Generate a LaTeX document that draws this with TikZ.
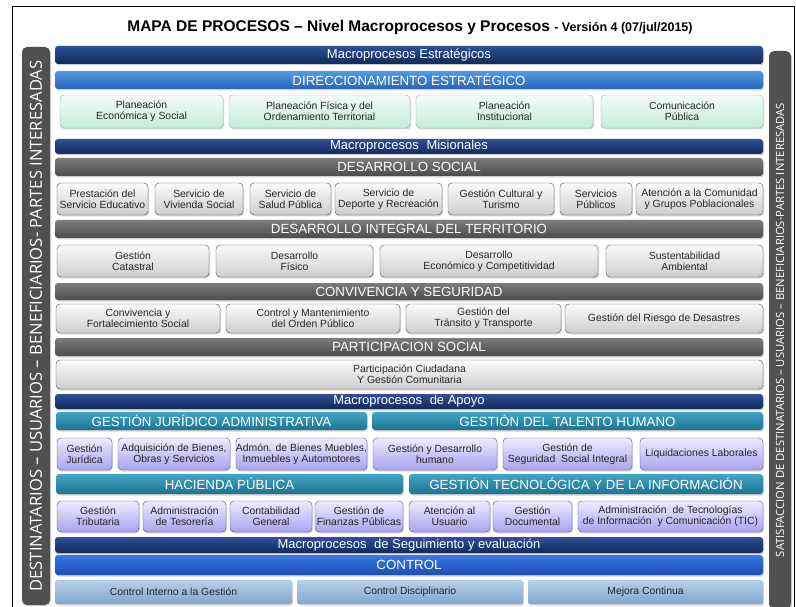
\documentclass[tikz,border=0pt]{standalone}
\usepackage{fontspec}
\setmainfont{Liberation Sans}
\newfontfamily\sidefont{Open Sans}
\usetikzlibrary{shadows}

\definecolor{navytop}{HTML}{2D5096}
\definecolor{navybot}{HTML}{13295A}
\definecolor{dirtop}{HTML}{549AE2}
\definecolor{dirbot}{HTML}{2864B6}
\definecolor{minttop}{HTML}{F2FDF8}
\definecolor{mintbot}{HTML}{C4ECDA}
\definecolor{graytop}{HTML}{7C7C7C}
\definecolor{graybot}{HTML}{4C4C4C}
\definecolor{boxtop}{HTML}{FBFBFB}
\definecolor{boxbot}{HTML}{CDCDCD}
\definecolor{tealtop}{HTML}{40A6C6}
\definecolor{tealbot}{HTML}{1D7290}
\definecolor{lavtop}{HTML}{EEECFF}
\definecolor{lavbot}{HTML}{AAA2EE}
\definecolor{ctrltop}{HTML}{3A79E6}
\definecolor{ctrlbot}{HTML}{1A4CB4}
\definecolor{steeltop}{HTML}{B6D0EA}
\definecolor{steelbot}{HTML}{80A6CE}
\definecolor{sideclr}{HTML}{505050}

\tikzset{
  bar/.style={rounded corners=3pt, inner sep=0pt, text=white,
    drop shadow={shadow xshift=1pt, shadow yshift=-1.5pt, opacity=0.35}},
  navybar/.style={bar, top color=navytop, bottom color=navybot, font=\fontsize{13}{15}\selectfont},
  dirbar/.style={bar, top color=dirtop, bottom color=dirbot, font=\fontsize{13.3}{15}\selectfont},
  graybar/.style={bar, top color=graytop, bottom color=graybot, font=\fontsize{13.3}{15}\selectfont},
  tealbar/.style={bar, top color=tealtop, bottom color=tealbot, font=\fontsize{13.3}{15}\selectfont},
  ctrlbar/.style={bar, top color=ctrltop, bottom color=ctrlbot, font=\fontsize{13.3}{15}\selectfont},
  procbox/.style={rounded corners=4pt, inner sep=0pt, align=center, text=black!85,
    font=\fontsize{10.4}{11}\selectfont,
    drop shadow={shadow xshift=1pt, shadow yshift=-1.5pt, opacity=0.3}},
  mintbox/.style={procbox, draw=gray!70, top color=minttop, bottom color=mintbot},
  graybox/.style={procbox, draw=black!70, top color=boxtop, bottom color=boxbot},
  lavbox/.style={procbox, draw=blue!40!black!70, top color=lavtop, bottom color=lavbot},
  steelbox/.style={procbox, top color=steeltop, bottom color=steelbot, rounded corners=2pt},
  sidebar/.style={rounded corners=5pt, inner sep=0pt, fill=sideclr, text=white, rotate=90,
    drop shadow={shadow xshift=1pt, shadow yshift=-1pt, opacity=0.3}}
}

\begin{document}
\begin{tikzpicture}[x=1pt, y=-1pt]
  \useasboundingbox (0,0) rectangle (796,607);
  \fill[white] (0,0) rectangle (796,607);
  \draw[line width=1pt] (12,7) rectangle (794,620);% outer frame

  % title
  \node[font=\fontsize{15.5}{17}\bfseries\selectfont] (title) at (410,27)
    {MAPA DE PROCESOS – Nivel Macroprocesos y Procesos {\fontsize{12.5}{14}\selectfont - Versión 4 (07/jul/2015)}};

  % side bars
  \node[sidebar, minimum width=558pt, minimum height=28pt, font=\sidefont\fontsize{16.6}{18}\selectfont] (leftside) at (36,326)
    {DESTINATARIOS – USUARIOS – BENEFICIARIOS- PARTES INTERESADAS};
  \node[sidebar, minimum width=558pt, minimum height=22pt, font=\sidefont\fontsize{11.3}{13}\selectfont] (rightside) at (780,330)
    {SATISFACCION DE DESTINATARIOS – USUARIOS – BENEFICIARIOS-PARTES INTERESADAS};

  % estrategicos
  \node[navybar, minimum width=708pt, minimum height=18pt] (estr) at (409,55) {Macroprocesos Estratégicos};
  \node[dirbar, minimum width=708pt, minimum height=18pt] (direc) at (409,80) {DIRECCIONAMIENTO ESTRATÉGICO};
  \foreach \a/\b/\t [count=\k] in {60/223/{Planeación\\Económica y Social},
      229/410/{Planeación Física y del\\Ordenamiento Territorial},
      416/593/{Planeación\\Institucional}, 601/763/{Comunicación\\Pública}}
    \node[mintbox, minimum width={(\b-\a)*1pt}, minimum height=33pt] (plan\k) at ({(\a+\b)/2},111.5) {\t};

  % misionales
  \node[navybar, minimum width=708pt, minimum height=15pt] (misio) at (409,146.5) {Macroprocesos\hspace{4pt} Misionales};
  \node[graybar, minimum width=708pt, minimum height=18pt] (dsoc) at (409,167) {DESARROLLO SOCIAL};
  \foreach \a/\b/\t [count=\k] in {57/148/{Prestación del\\Servicio Educativo},
      155/243/{Servicio de\\Vivienda Social}, 250/331/{Servicio de\\Salud Pública},
      335/442/{Servicio de\\Deporte y Recreación}, 448/554/{Gestión Cultural y\\Turismo},
      560/632/{Servicios\\Públicos}, 636/763/{Atención a la Comunidad\\y Grupos Poblacionales}}
    \node[graybox, minimum width={(\b-\a)*1pt}, minimum height=32pt] (soc\k) at ({(\a+\b)/2},199) {\t};

  \node[graybar, minimum width=708pt, minimum height=18pt] (dterr) at (409,229) {DESARROLLO INTEGRAL DEL TERRITORIO};
  \foreach \a/\b/\t [count=\k] in {57/209/{Gestión\\Catastral}, 216/373/{Desarrollo\\Físico},
      380/598/{Desarrollo\\Económico y Competitividad}, 606/763/{Sustentabilidad\\Ambiental}}
    \node[graybox, minimum width={(\b-\a)*1pt}, minimum height=32pt] (terr\k) at ({(\a+\b)/2},261) {\t};

  \node[graybar, minimum width=708pt, minimum height=17pt] (conv) at (409,291.5) {CONVIVENCIA Y SEGURIDAD};
  \foreach \a/\b/\t [count=\k] in {56/220/{Convivencia y\\Fortalecimiento Social},
      226/400/{Control y Mantenimiento\\del Orden Público},
      406/561/{Gestión del\\Tránsito y Transporte}, 565/763/{Gestión del Riesgo de Desastres}}
    \node[graybox, minimum width={(\b-\a)*1pt}, minimum height=29pt] (seg\k) at ({(\a+\b)/2},318.5) {\t};

  \node[graybar, minimum width=708pt, minimum height=18pt] (part) at (409,347) {PARTICIPACION SOCIAL};
  \node[graybox, minimum width=707pt, minimum height=29pt] (partc) at (409.5,374.5) {Participación Ciudadana\\Y Gestión Comunitaria};

  % apoyo
  \node[navybar, minimum width=708pt, minimum height=15pt] (apoyo) at (409,401.5) {Macroprocesos\hspace{4pt} de Apoyo};
  \node[tealbar, minimum width=311pt, minimum height=18pt] (jurid) at (211.5,421) {GESTIÓN JURÍDICO ADMINISTRATIVA};
  \node[tealbar, minimum width=391pt, minimum height=18pt] (talen) at (567.5,421) {GESTIÓN DEL TALENTO HUMANO};
  \foreach \a/\b/\t [count=\k] in {57/112/{Gestión\\Jurídica}, 118/230/{Adquisición de Bienes,\\Obras y Servicios},
      236/367/{Admón. de Bienes Muebles,\\Inmuebles y Automotores},
      373/497/{Gestión y Desarrollo\\humano}, 503/632/{Gestión de\\Seguridad\hspace{3pt} Social Integral},
      640/763/{Liquidaciones Laborales}}
    \node[lavbox, minimum width={(\b-\a)*1pt}, minimum height=32pt] (apo\k) at ({(\a+\b)/2},454) {\t};

  \node[tealbar, minimum width=347pt, minimum height=20pt] (hacie) at (229.5,484) {HACIENDA PÚBLICA};
  \node[tealbar, minimum width=354pt, minimum height=20pt] (tecno) at (586,484) {GESTIÓN TECNOLÓGICA Y DE LA INFORMACIÓN};
  \foreach \a/\b/\t [count=\k] in {57/139/{Gestión\\Tributaria}, 143/226/{Administración\\de Tesorería},
      230/312/{Contabilidad\\General}, 315/403/{Gestión de\\Finanzas Públicas},
      409/490/{Atención al\\Usuario}, 493/572/{Gestión\\Documental},
      578/763/{Administración\hspace{3pt} de Tecnologías\\de Información\hspace{3pt} y Comunicación (TIC)}}
    \node[lavbox, minimum width={(\b-\a)*1pt}, minimum height=31pt] (hac\k) at ({(\a+\b)/2},516.5) {\t};

  % seguimiento
  \node[navybar, minimum width=708pt, minimum height=16pt] (segui) at (409,545) {Macroprocesos\hspace{4pt} de Seguimiento y evaluación};
  \node[ctrlbar, minimum width=708pt, minimum height=20pt] (ctrl) at (409,565) {CONTROL};
  \foreach \a/\b/\t [count=\k] in {55/292/{Control Interno a la Gestión},
      297/523/{Control Disciplinario}, 528/763/{Mejora Continua}}
    \node[steelbox, minimum width={(\b-\a)*1pt}, minimum height=24pt] (mej\k) at ({(\a+\b)/2},592) {\t};

\end{tikzpicture}
\end{document}
